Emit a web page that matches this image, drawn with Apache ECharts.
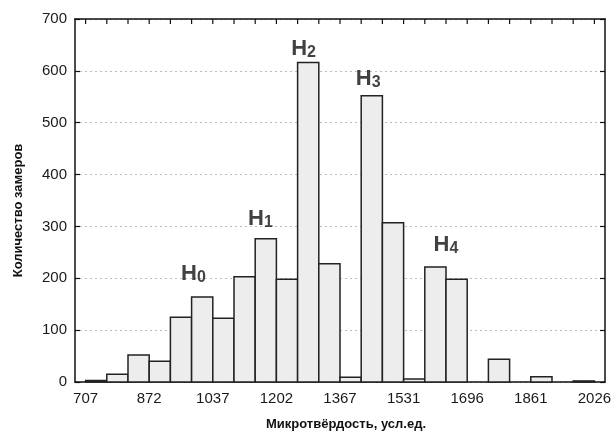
<!DOCTYPE html>
<html><head><meta charset="utf-8">
<script src="https://cdn.jsdelivr.net/npm/echarts@6/dist/echarts.min.js"></script>
<style>html,body{margin:0;padding:0;background:#fff}#c{width:611px;height:433px}</style>
</head><body><div id="c"></div>
<script>
// Bin edges: 707 ... 2026, 24 equal bins, labels every 3 bins
const tickLabels = ['707', '872', '1037', '1202', '1367', '1531', '1696', '1861', '2026'];
const counts = [3, 15, 52, 40, 125, 164, 123, 203, 276, 198, 616, 228, 9, 552, 307, 6, 222, 198, 0, 44, 0, 10, 0, 2];
const yTicks = [0, 100, 200, 300, 400, 500, 600, 700];
// Peak annotations (position in bin units / count units)
const peakNames = ['0', '1', '2', '3', '4'];
const peakBins = [5.09, 8.25, 10.28, 13.33, 17.0];
const peakValues = [201, 307, 636, 578, 257];

const FONT = '"Liberation Sans", Arial, sans-serif';
const chart = echarts.init(document.getElementById('c'), null, {renderer: 'canvas'});
const axisLine = {show: true, onZero: false, lineStyle: {color: '#111', width: 1.5}};
const nBins = counts.length;
const yMax = yTicks[yTicks.length - 1];
const binEdges = Array.from({length: nBins + 1}, (_, i) => [i, yMax]);

chart.setOption({
  animation: false,
  backgroundColor: '#fff',
  grid: {left: 75, right: 6, top: 19, bottom: 51, containLabel: false, outerBoundsMode: 'none'},
  xAxis: [{
    type: 'value', position: 'bottom', min: -0.5, max: nBins + 0.5, interval: 0.5,
    axisLine: axisLine, axisTick: {show: false}, splitLine: {show: false},
    axisLabel: {
      margin: 9, color: '#1a1a1a', fontSize: 15, fontFamily: FONT,
      showMinLabel: true, showMaxLabel: true, hideOverlap: false,
      formatter: v => {
        const k = Math.round(v / 3);
        return Math.abs(v - 3 * k) < 1e-6 && k >= 0 && k < tickLabels.length ? tickLabels[k] : '';
      }
    },
    name: 'Микротвёрдость, усл.ед.', nameLocation: 'middle', nameGap: 36,
    nameTextStyle: {fontSize: 13, fontWeight: 'bold', color: '#111', fontFamily: FONT, padding: [0, 0, 0, 12]}
  }, {
    type: 'value', position: 'top', min: -0.5, max: nBins + 0.5, interval: 0.5,
    axisLine: axisLine, axisTick: {show: false},
    axisLabel: {show: false}, splitLine: {show: false}
  }],
  yAxis: [{
    type: 'value', position: 'left', min: yTicks[0], max: yMax, interval: 100,
    axisLine: axisLine, axisTick: {show: true, inside: true, length: 5, lineStyle: {color: '#111', width: 1.2}},
    axisLabel: {margin: 8, color: '#1a1a1a', fontSize: 15, fontFamily: FONT},
    splitLine: {show: true, lineStyle: {color: '#bdbdbd', type: [2, 3], width: 1}},
    name: 'Количество замеров', nameLocation: 'middle', nameGap: 50,
    nameTextStyle: {fontSize: 13, fontWeight: 'bold', color: '#111', fontFamily: FONT, padding: [0, 20, 0, 0]}
  }, {
    type: 'value', position: 'right', min: yTicks[0], max: yMax, interval: 100,
    axisLine: axisLine, axisTick: {show: true, inside: true, length: 5, lineStyle: {color: '#111', width: 1.2}},
    axisLabel: {show: false}, splitLine: {show: false}
  }],
  series: [{
    type: 'custom', xAxisIndex: 0, yAxisIndex: 0, z: 3,
    data: counts.map((v, i) => [i, v]),
    encode: {x: 0, y: 1},
    renderItem: function (params, api) {
      const i = api.value(0), v = api.value(1);
      if (!v) return null;
      const p0 = api.coord([i, v]);
      const p1 = api.coord([i + 1, 0]);
      return {
        type: 'rect',
        shape: {x: p0[0], y: p0[1], width: p1[0] - p0[0], height: p1[1] - p0[1]},
        style: {fill: '#ededed', stroke: '#222', lineWidth: 1.5}
      };
    }
  }, {
    // inside tick marks on the top frame at every bin edge
    type: 'custom', xAxisIndex: 0, yAxisIndex: 0, z: 4, silent: true,
    data: binEdges,
    encode: {x: 0, y: 1},
    renderItem: function (params, api) {
      const p = api.coord([api.value(0), api.value(1)]);
      return {
        type: 'line',
        shape: {x1: p[0], y1: p[1], x2: p[0], y2: p[1] + 5},
        style: {stroke: '#111', lineWidth: 1.2}
      };
    }
  }, {
    type: 'scatter', xAxisIndex: 0, yAxisIndex: 0, z: 5, symbolSize: 0,
    data: peakBins.map((x, i) => [x, peakValues[i], peakNames[i]]),
    label: {
      show: true, position: 'inside',
      formatter: p => '{h|H}{s|' + p.value[2] + '}',
      rich: {
        h: {fontSize: 22, fontWeight: 'bold', color: '#111', fontFamily: FONT, padding: [0, 0, 7, 0]},
        s: {fontSize: 16, fontWeight: 'bold', color: '#111', fontFamily: FONT}
      }
    }
  }]
});
</script></body></html>
